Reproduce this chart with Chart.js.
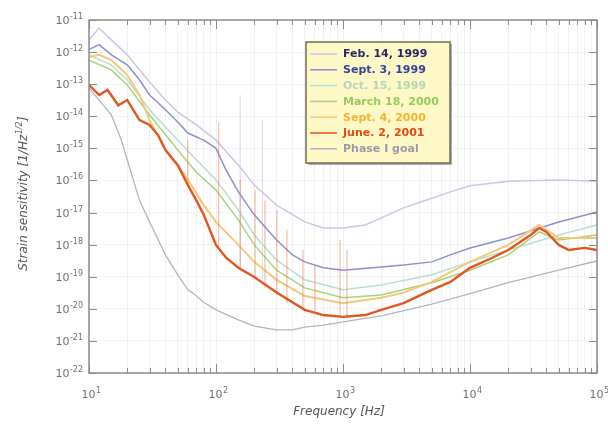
<!DOCTYPE html>
<html><head><meta charset="utf-8">
<script src="https://cdn.jsdelivr.net/npm/chart.js@4"></script>
<style>html,body{margin:0;padding:0;background:#fff}</style>
</head><body>
<canvas id="c" width="608" height="427"></canvas>
<script>
// ---------- DATA ----------
const seriesNames = ['Feb. 14, 1999','Sept. 3, 1999','Oct. 15, 1999','March 18, 2000','Sept. 4, 2000','June. 2, 2001','Phase I goal'];

const freqFeb14   = [10,12,15,20,25,30,40,50,70,100,150,200,300,500,700,1000,1500,2000,3000,5000,7000,10000,20000,50000,100000];
const strainFeb14 = [2.4e-12,5.6e-12,2.4e-12,8.2e-13,2.8e-13,1.17e-13,3.2e-14,1.35e-14,5.4e-15,1.8e-15,3.0e-16,7.2e-17,1.7e-17,5.1e-18,3.3e-18,3.3e-18,4.1e-18,6.8e-18,1.4e-17,2.8e-17,4.4e-17,6.8e-17,9.5e-17,1.04e-16,9.5e-17];

const freqSep99   = [10,12,15,20,25,30,40,50,60,80,100,120,150,200,300,400,500,700,1000,2000,3000,5000,7000,10000,20000,50000,100000];
const strainSep99 = [1.2e-12,1.7e-12,8.2e-13,4.0e-13,1.35e-13,4.6e-14,1.6e-14,6.6e-15,3.0e-15,1.8e-15,1.0e-15,2.1e-16,4.4e-17,8.5e-18,1.4e-18,4.8e-19,2.9e-19,1.9e-19,1.6e-19,2.0e-19,2.3e-19,2.9e-19,4.8e-19,7.9e-19,1.6e-18,5.1e-18,1.05e-17];

const freqOct99   = [10,15,20,30,50,70,100,150,200,300,500,1000,2000,5000,10000,20000,50000,100000];
const strainOct99 = [8.2e-13,4.0e-13,1.35e-13,1.6e-14,1.8e-15,4.4e-16,1.04e-16,1.2e-17,2.0e-18,3.3e-19,8.0e-20,3.9e-20,5.5e-20,1.15e-19,2.9e-19,6.8e-19,2.0e-18,4.1e-18];

const freqMar00   = [10,15,20,30,50,70,100,150,200,300,500,1000,2000,5000,10000,20000,35000,50000,100000];
const strainMar00 = [5.6e-13,2.8e-13,9.5e-14,1.1e-14,8.9e-16,1.8e-16,5.0e-17,5.9e-18,9.8e-19,1.6e-19,4.5e-20,2.2e-20,2.7e-20,6.5e-20,1.6e-19,4.8e-19,2.5e-18,1.4e-18,2.0e-18];

const freqSep00   = [10,12,15,20,25,30,40,50,60,80,100,150,200,300,500,1000,2000,3000,5000,10000,20000,35000,50000,100000];
const strainSep00 = [7.0e-13,8.2e-13,5.6e-13,1.9e-13,4.6e-14,7.6e-15,8.9e-16,3.0e-16,1.04e-16,1.7e-17,5.1e-18,9.8e-19,2.9e-19,8.0e-20,2.5e-20,1.5e-20,2.2e-20,3.2e-20,6.9e-20,2.9e-19,9.8e-19,4.1e-18,1.6e-18,1.6e-18];

const freqJun01   = [10,12,14,17,20,25,30,35,40,50,60,70,80,100,120,150,200,300,500,700,1000,1500,2000,3000,5000,7000,10000,15000,20000,30000,35000,40000,50000,60000,80000,100000];
const strainJun01 = [9.5e-14,4.6e-14,6.6e-14,2.2e-14,3.2e-14,7.6e-15,5.4e-15,2.6e-15,8.9e-16,3.0e-16,7.2e-17,2.4e-17,8.5e-18,9.8e-19,3.9e-19,1.9e-19,9.8e-20,3.2e-20,9.3e-21,6.4e-21,5.6e-21,6.4e-21,9.3e-21,1.5e-20,3.9e-20,6.9e-20,1.9e-19,3.9e-19,6.8e-19,2.0e-18,3.3e-18,2.5e-18,9.8e-19,6.8e-19,7.9e-19,6.8e-19];

const freqGoal    = [10,12,15,18,20,25,30,40,50,60,65,80,100,150,200,300,400,500,700,1000,2000,5000,10000,20000,50000,100000];
const strainGoal  = [7.6e-14,3.2e-14,1.1e-14,1.8e-15,4.4e-16,2.4e-17,5.1e-18,4.8e-19,1.15e-19,3.9e-20,3.2e-20,1.6e-20,9.3e-21,4.5e-21,2.9e-21,2.2e-21,2.2e-21,2.7e-21,3.1e-21,3.9e-21,6.0e-21,1.4e-20,3.0e-20,6.5e-20,1.6e-19,3.1e-19];

// narrow line spikes (June 2001 curve)
const spikeFreq = [60,105,155,203,243,302,362,484,602,947,1075];
const spikeLow  = [7.2e-17,6.8e-19,1.6e-19,9e-20,4.5e-20,2.7e-20,1.5e-20,9.3e-21,7.4e-21,5.6e-21,5.6e-21];
const spikeHigh = [1.8e-15,6.2e-15,1.04e-16,5e-17,2.4e-17,1.2e-17,2.9e-18,6.8e-19,2.3e-19,1.4e-18,6.8e-19];
// faint spikes (Feb 1999 curve)
const paleSpikeFreq = [155,232];
const paleSpikeLow  = [1.6e-19,8e-20];
const paleSpikeHigh = [4.6e-14,7.6e-15];

// axis ticks
const xDecades = [1,2,3,4,5];
const yDecades = [-22,-21,-20,-19,-18,-17,-16,-15,-14,-13,-12,-11];

// ---------- STYLE ----------
const lineColors = ['#c9c6e6','#8a90d2','#b6dfd2','#a9d27a','#f6c77a','#e2561f','#b3b3c2'];
const textColors = ['#2a2a62','#38439c','#b0d8b8','#96cc5c','#f4b432','#e24a16','#9a9aa6'];
const widths     = [1.5,1.5,1.5,1.5,2,2.4,1.3];

const pts = (fs, vs) => fs.map((f,i)=>({x:f,y:vs[i]}));
const segs = (fs, lo, hi) => { const a=[]; fs.forEach((f,i)=>{a.push({x:f,y:lo[i]},{x:f,y:hi[i]},{x:f,y:null});}); return a; };

const series = [
  [freqFeb14,strainFeb14],[freqSep99,strainSep99],[freqOct99,strainOct99],
  [freqMar00,strainMar00],[freqSep00,strainSep00],[freqJun01,strainJun01],[freqGoal,strainGoal]
];
const drawOrder = [6,5,4,3,2,0,1];
const datasets = series.map((s,i)=>({
  label: seriesNames[i], data: pts(s[0],s[1]), borderColor: lineColors[i],
  borderWidth: widths[i], pointRadius:0, tension:0, fill:false, order: drawOrder[i]
}));
datasets.push({label:'spikesFeb', data: segs(paleSpikeFreq,paleSpikeLow,paleSpikeHigh), borderColor:'rgba(200,198,222,0.7)', borderWidth:1, pointRadius:0, spanGaps:false, order:8});
datasets.push({label:'spikesJun', data: segs(spikeFreq,spikeLow,spikeHigh), borderColor:'rgba(230,110,60,0.55)', borderWidth:1, pointRadius:0, spanGaps:false, order:1});

const FONT = '"DejaVu Sans", "Liberation Sans", sans-serif';
function drawPow(ctx, exp, x, y, align){
  ctx.font = '11px '+FONT; const w1 = ctx.measureText('10').width;
  ctx.font = '8px '+FONT; const w2 = ctx.measureText(exp).width;
  const x0 = align==='right' ? x-w1-w2-0.5 : x-(w1+w2)/2;
  ctx.textAlign='left'; ctx.textBaseline='alphabetic';
  ctx.font='11px '+FONT; ctx.fillText('10', x0, y);
  ctx.font='8px '+FONT; ctx.fillText(exp, x0+w1+0.5, y-5);
}

const deco = {
  id:'deco',
  afterDatasetsDraw(chart){
    const ctx = chart.ctx, a = chart.chartArea, xs = chart.scales.x, ys = chart.scales.y;
    ctx.save();
    // frame
    ctx.strokeStyle='#8a8a8a'; ctx.lineWidth=1.5;
    ctx.strokeRect(a.left, a.top, a.right-a.left, a.bottom-a.top);
    // inward ticks
    ctx.lineWidth=1; ctx.strokeStyle='#8a8a8a';
    ctx.beginPath();
    yDecades.forEach(e=>{ const p=Math.round(ys.getPixelForValue(Math.pow(10,e)))+0.5;
      ctx.moveTo(a.left,p); ctx.lineTo(a.left+8,p); ctx.moveTo(a.right,p); ctx.lineTo(a.right-8,p); });
    xDecades.forEach(e=>{ for(let m=1;m<10;m++){ if(e===5 && m>1) break;
      const p=Math.round(xs.getPixelForValue(m*Math.pow(10,e)))+0.5; const L = m===1?9:5;
      ctx.moveTo(p,a.bottom); ctx.lineTo(p,a.bottom-L); ctx.moveTo(p,a.top); ctx.lineTo(p,a.top+L); }});
    ctx.stroke();
    // tick labels
    ctx.fillStyle='#707070';
    yDecades.forEach(e=>{ drawPow(ctx, String(e), 83, ys.getPixelForValue(Math.pow(10,e))+4, 'right'); });
    xDecades.forEach(e=>{ drawPow(ctx, String(e), xs.getPixelForValue(Math.pow(10,e))+2, 398, 'center'); });
    // axis titles
    ctx.fillStyle='#555';
    ctx.font='italic 12px '+FONT; ctx.textAlign='center'; ctx.textBaseline='alphabetic';
    ctx.fillText('Frequency [Hz]', 339, 415);
    ctx.translate(27, 194); ctx.rotate(-Math.PI/2);
    const t1='Strain sensitivity [1/Hz', t2='1/2', t3=']';
    ctx.font='italic 12px '+FONT; const w1=ctx.measureText(t1).width, w3=ctx.measureText(t3).width;
    ctx.font='italic 8px '+FONT; const w2=ctx.measureText(t2).width;
    let x0=-(w1+w2+w3)/2; ctx.textAlign='left';
    ctx.font='italic 12px '+FONT; ctx.fillText(t1,x0,0);
    ctx.font='italic 8px '+FONT; ctx.fillText(t2,x0+w1+0.5,-5);
    ctx.font='italic 12px '+FONT; ctx.fillText(t3,x0+w1+w2+1,0);
    ctx.restore();
    // legend box
    ctx.save();
    const bx=306, by=42, bw=144, bh=121;
    ctx.fillStyle='rgba(110,110,90,0.55)'; ctx.fillRect(bx+2,by+2,bw,bh);
    ctx.fillStyle='#fdf8c6'; ctx.fillRect(bx,by,bw,bh);
    ctx.strokeStyle='#6e6e56'; ctx.lineWidth=1.5; ctx.strokeRect(bx,by,bw,bh);
    seriesNames.forEach((n,i)=>{
      const cy = by+12+i*15.8;
      ctx.strokeStyle=lineColors[i]; ctx.lineWidth=1.5;
      ctx.beginPath(); ctx.moveTo(bx+4,cy); ctx.lineTo(bx+31,cy); ctx.stroke();
      ctx.fillStyle=textColors[i]; ctx.font='bold 11px '+FONT; ctx.textAlign='left'; ctx.textBaseline='middle';
      ctx.fillText(n, bx+37, cy+0.5);
    });
    ctx.restore();
  }
};

const xTickVals = []; xDecades.forEach(e=>{ for(let m=1;m<10;m++){ const v=m*Math.pow(10,e); if(v<=100000) xTickVals.push(v);} });

new Chart(document.getElementById('c'), {
  type:'line',
  data:{datasets},
  options:{
    responsive:false, animation:false, parsing:true,
    layout:{padding:{left:0,right:11,top:20,bottom:0}},
    plugins:{legend:{display:false}, tooltip:{enabled:false}},
    scales:{
      x:{type:'logarithmic', min:10, max:100000,
        afterBuildTicks(s){ s.ticks = xTickVals.map(v=>({value:v})); },
        afterFit(s){ s.height=54; },
        ticks:{display:false}, grid:{color:'rgba(0,0,0,0.06)', drawTicks:false}, border:{display:false}},
      y:{type:'logarithmic', min:1e-22, max:1e-11,
        afterBuildTicks(s){ s.ticks = yDecades.map(e=>({value:Math.pow(10,e)})); },
        afterFit(s){ s.width=89; },
        ticks:{display:false}, grid:{color:'rgba(0,0,0,0.04)', drawTicks:false}, border:{display:false}}
    }
  },
  plugins:[deco]
});
</script>
</body></html>
